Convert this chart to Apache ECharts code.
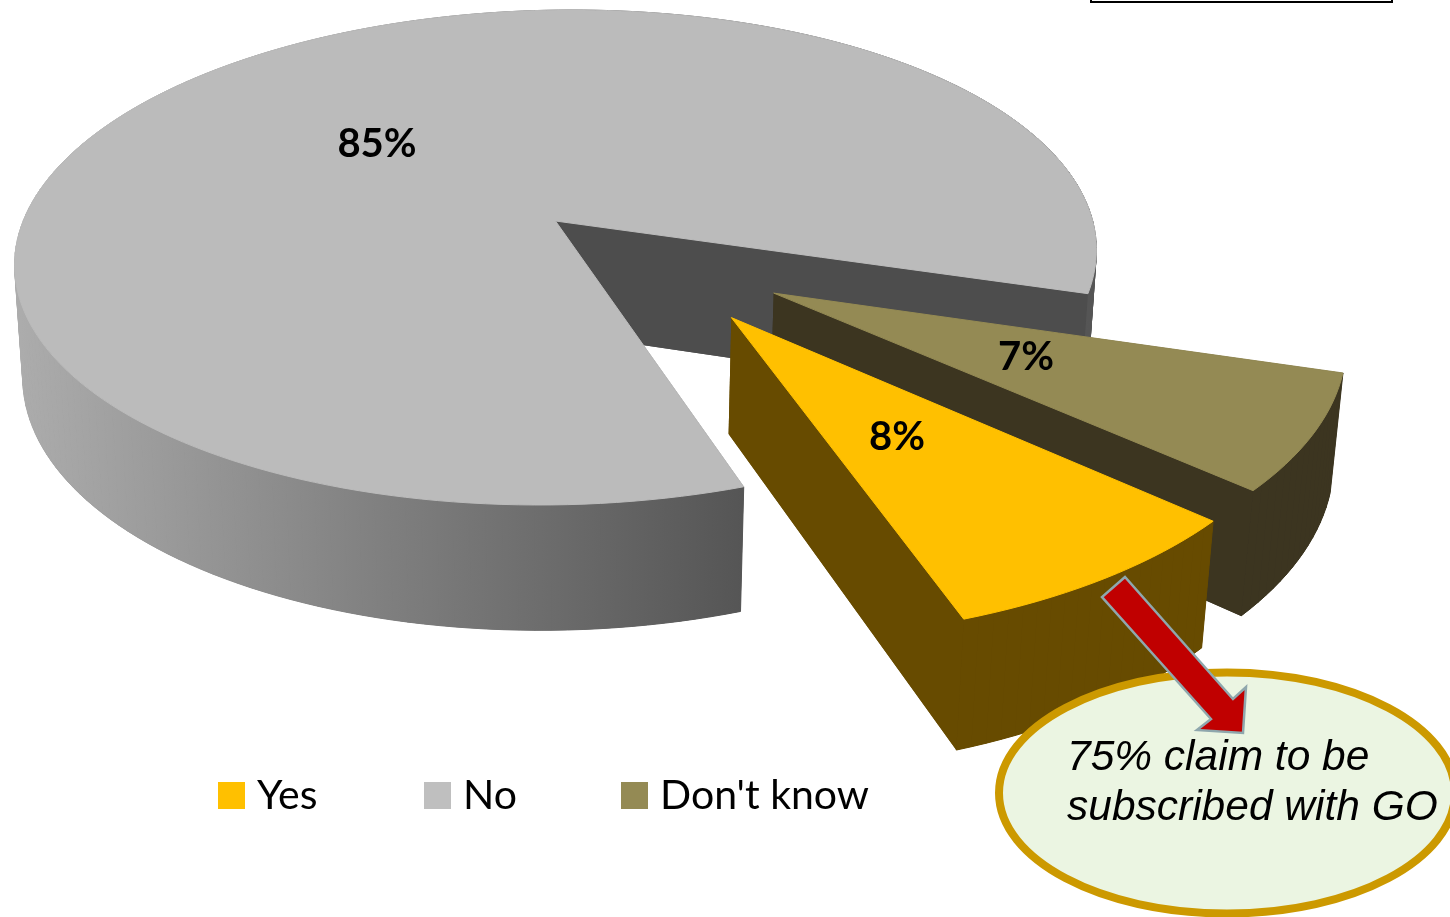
<!DOCTYPE html>
<html>
<head>
<meta charset="utf-8">
<title>Subscription to GO</title>
<style>html,body{margin:0;padding:0;background:#fff}#chart{width:1450px;height:917px}</style>
<script src="https://cdn.jsdelivr.net/npm/echarts@6/dist/echarts.min.js"></script>
</head>
<body>
<div id="chart"></div>
<script>
// Survey shares
const categories = ["Yes", "No", "Don't know"];
const shares = [8, 85, 7];

// Colours per slice
const topColors = ['#ffc000', '#bbbbbb', '#948a54'];
const swatchColors = ['#ffc000', '#bfbfbf', '#948a54'];
const wallColors = ['#674b00', '#4d4d4d', '#3c3520'];

// Perspective camera for the tilted disc
const cam = { x0: 555.5, y0: 221, a: 535, b: 242, h: 113, p: 0.1475, q: 0.015, roll: -0.014 };
const firstAngle = 43.6;           // degrees clockwise from the right, where "Yes" begins
const explode = [[0.310, 0.386], [0, 0], [0.390, 0.297]];
const labelAt = [[897, 437], [377, 144], [1026, 357]];
const paintOrder = [3, 1, 2];
const legendLeft = [218, 424, 621];

function project(u, v, z) {
  const s = 1 / (1 - cam.p * v + cam.q * z);
  const dx = cam.a * u * s;
  return [cam.x0 + dx, cam.y0 + (cam.b * v + cam.h * z) * s + cam.roll * dx];
}

// Start and end angle of every slice, from the shares
const total = shares.reduce((a, b) => a + b, 0);
const starts = [];
shares.reduce((from, v) => {
  starts.push(from);
  return from + v / total * 360;
}, firstAngle);

function arc(i, z, from, to) {
  const n = Math.max(8, Math.ceil((to - from) / 1.5));
  const [ox, oy] = explode[i];
  const pts = [];
  for (let k = 0; k <= n; k++) {
    const t = (from + (to - from) * k / n) * Math.PI / 180;
    pts.push(project(ox + Math.cos(t), oy + Math.sin(t), z));
  }
  return pts;
}

function poly(points, fill, edge) {
  return { type: 'polygon', shape: { points }, style: { fill, stroke: edge || null, lineWidth: edge ? 1 : 0 } };
}

const outerWallFill = new echarts.graphic.LinearGradient(12, 0, 745, 0, [
  { offset: 0, color: '#adadad' },
  { offset: 0.5, color: '#808080' },
  { offset: 1, color: '#555555' }
], true);

function renderSlice(params, api) {
  const i = params.seriesIndex;
  const share = api.value(0);
  const from = starts[i];
  const to = from + share / total * 360;
  const [ox, oy] = explode[i];
  const top = arc(i, 0, from, to);
  const bottom = arc(i, 1, from, to);
  const apexTop = project(ox, oy, 0);
  const apexBottom = project(ox, oy, 1);
  const wall = wallColors[i];
  const rim = i === 1 ? outerWallFill : wall;
  const children = [
    poly([apexBottom].concat(bottom), wall),
    poly([apexTop, top[0], bottom[0], apexBottom], wall)
  ];
  // Rim as one quad per arc step, so the swept silhouette stays filled
  for (let k = 0; k < top.length - 1; k++) {
    children.push(poly([top[k], top[k + 1], bottom[k + 1], bottom[k]], rim, rim));
  }
  children.push(
    poly([apexTop, top[top.length - 1], bottom[bottom.length - 1], apexBottom], wall),
    poly([apexTop].concat(top), topColors[i], topColors[i]),
    {
      type: 'text',
      style: {
        x: labelAt[i][0], y: labelAt[i][1],
        text: share + '%',
        fill: '#000',
        font: 'bold 40px Lato, "Open Sans", sans-serif',
        align: 'center', verticalAlign: 'middle'
      }
    }
  );
  return { type: 'group', children };
}

const chart = echarts.init(document.getElementById('chart'), null, { renderer: 'canvas' });
chart.setOption({
  backgroundColor: '#ffffff',
  animation: false,
  legend: categories.map((name, i) => ({
    data: [name],
    left: legendLeft[i],
    top: 775,
    padding: 0,
    icon: 'rect',
    itemWidth: 27,
    itemHeight: 27,
    selectedMode: false,
    textStyle: { color: '#000', fontFamily: 'Lato, "Open Sans", sans-serif', fontSize: 41, padding: [0, 0, 0, 7] }
  })),
  series: categories.map((name, i) => ({
    type: 'custom',
    name,
    coordinateSystem: 'none',
    z: paintOrder[i],
    silent: true,
    itemStyle: { color: swatchColors[i] },
    renderItem: renderSlice,
    data: [[shares[i]]]
  })),
  graphic: [
    {
      type: 'rect', z: 10,
      shape: { x: 1091, y: -20, width: 301, height: 22 },
      style: { fill: '#fff', stroke: '#000', lineWidth: 2 }
    },
    {
      type: 'ellipse', z: 10,
      shape: { cx: 1227, cy: 793, rx: 228, ry: 120.5 },
      style: { fill: '#ebf5e2', stroke: '#cc9900', lineWidth: 8 }
    },
    {
      type: 'polygon', z: 11,
      shape: { points: [[1125, 577], [1102, 597], [1211, 719], [1197, 730], [1243, 733], [1246, 687], [1233, 699]] },
      style: { fill: '#c00000', stroke: '#8fa7ad', lineWidth: 2.5 }
    },
    {
      type: 'text', z: 12, x: 1067, y: 733,
      style: {
        text: '75% claim to be\nsubscribed with GO',
        fill: '#000',
        font: 'italic 42.5px "Liberation Sans", Arial, sans-serif',
        lineHeight: 50
      }
    }
  ]
});
</script>
</body>
</html>
